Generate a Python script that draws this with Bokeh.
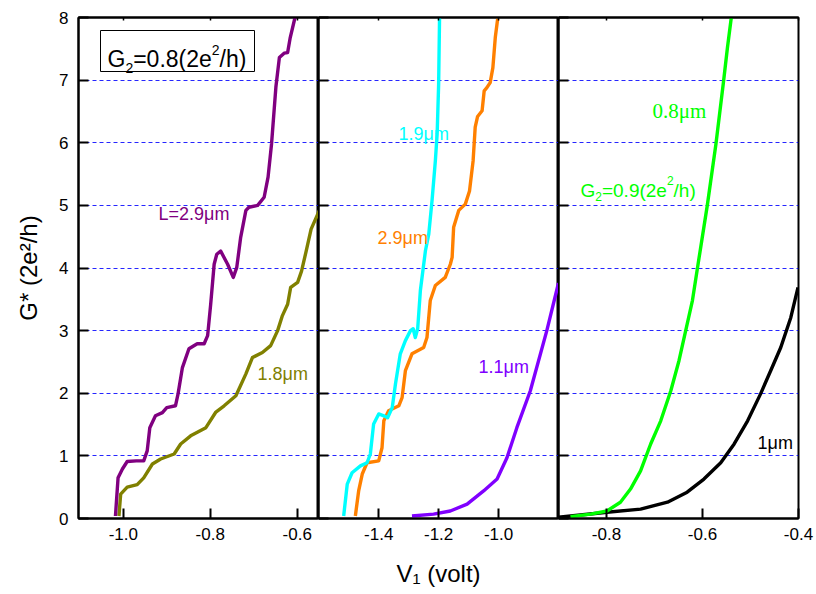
from bokeh.plotting import figure
from bokeh.models import Range1d, FixedTicker, LinearAxis, Label, BoxAnnotation
from bokeh.layouts import row
from bokeh.embed import file_html
from bokeh.resources import INLINE

# ---------------- data ----------------
# panel 1 : G2 = 0.8 (2e^2/h)
v_l29 = [-1.018, -1.012, -1.002, -0.991, -0.970, -0.953, -0.945, -0.939, -0.926, -0.910,
         -0.900, -0.880, -0.874, -0.864, -0.849, -0.830, -0.814, -0.806, -0.799, -0.791,
         -0.785, -0.776, -0.760, -0.747, -0.739, -0.730, -0.718, -0.711, -0.691, -0.676,
         -0.667, -0.659, -0.649, -0.641, -0.630, -0.622, -0.616, -0.605]
g_l29 = [0.04, 0.65, 0.79, 0.91, 0.92, 0.92, 1.08, 1.45, 1.64, 1.69,
         1.77, 1.80, 1.99, 2.41, 2.71, 2.79, 2.79, 2.92, 3.42, 4.06,
         4.22, 4.27, 4.06, 3.85, 4.01, 4.49, 4.92, 4.97, 5.00, 5.13,
         5.45, 5.98, 6.89, 7.36, 7.43, 7.44, 7.68, 8.00]

v_l18 = [-1.010, -1.006, -0.991, -0.968, -0.953, -0.933, -0.914, -0.883, -0.868, -0.845,
         -0.810, -0.787, -0.768, -0.741, -0.718, -0.703, -0.680, -0.661, -0.645, -0.634,
         -0.622, -0.615, -0.599, -0.590, -0.580, -0.568, -0.549]
g_l18 = [0.04, 0.39, 0.50, 0.54, 0.65, 0.87, 0.95, 1.03, 1.19, 1.32,
         1.45, 1.70, 1.80, 1.96, 2.31, 2.57, 2.65, 2.76, 3.00, 3.24,
         3.42, 3.69, 3.77, 3.95, 4.25, 4.62, 4.92]

# panel 2
v_l19 = [-1.517, -1.505, -1.489, -1.461, -1.439, -1.428, -1.417, -1.400, -1.383, -1.370,
         -1.355, -1.344, -1.328, -1.311, -1.294, -1.285, -1.278, -1.270, -1.261, -1.244,
         -1.233, -1.222, -1.211, -1.205, -1.200, -1.197]
g_l19 = [0.04, 0.55, 0.73, 0.84, 0.89, 1.03, 1.51, 1.67, 1.64, 1.61,
         1.77, 2.15, 2.63, 2.84, 3.00, 3.03, 2.89, 3.03, 3.64, 4.28,
         4.54, 5.08, 5.71, 6.14, 6.94, 8.00]

v_l29b = [-1.478, -1.467, -1.455, -1.439, -1.400, -1.389, -1.383, -1.367, -1.333, -1.322,
          -1.311, -1.289, -1.250, -1.239, -1.228, -1.211, -1.178, -1.161, -1.155, -1.150,
          -1.133, -1.111, -1.097, -1.085, -1.078, -1.070, -1.055, -1.048, -1.039, -1.028,
          -1.019, -1.011, -1.003]
g_l29b = [0.04, 0.44, 0.71, 0.89, 0.92, 1.13, 1.56, 1.72, 1.80, 1.93,
          2.36, 2.63, 2.73, 2.89, 3.48, 3.72, 3.85, 4.06, 4.17, 4.65,
          4.92, 5.02, 5.23, 5.71, 6.25, 6.42, 6.51, 6.83, 6.88, 6.96,
          7.20, 7.68, 7.98]

v_l11 = [-1.289, -1.217, -1.161, -1.105, -1.050, -1.005, -0.972, -0.939, -0.894, -0.839, -0.800]
g_l11 = [0.04, 0.07, 0.12, 0.23, 0.44, 0.63, 0.97, 1.45, 2.04, 3.00, 3.76]

# panel 3 : G2 = 0.9 (2e^2/h)
v_l08 = [-0.875, -0.833, -0.799, -0.771, -0.750, -0.729, -0.708, -0.687, -0.666, -0.649,
         -0.635, -0.621, -0.607, -0.590, -0.572, -0.556, -0.548, -0.540]
g_l08 = [0.03, 0.07, 0.12, 0.26, 0.47, 0.76, 1.19, 1.56, 2.04, 2.52,
         3.00, 3.48, 4.17, 5.00, 5.98, 6.99, 7.52, 8.00]

v_l10 = [-0.900, -0.799, -0.729, -0.673, -0.632, -0.597, -0.562, -0.534, -0.506, -0.479,
         -0.458, -0.437, -0.416, -0.401]
g_l10 = [0.02, 0.10, 0.15, 0.26, 0.42, 0.63, 0.89, 1.19, 1.56, 1.99,
         2.36, 2.73, 3.21, 3.69]

y_ticks = [0, 1, 2, 3, 4, 5, 6, 7, 8]
grid_ticks = [1, 2, 3, 4, 5, 6, 7]
x_ticks_1 = [-1.0, -0.8, -0.6]
x_ticks_2 = [-1.4, -1.2, -1.0]
x_ticks_3 = [-0.8, -0.6, -0.4]
x_range_1 = (-1.103, -0.551)
x_range_2 = (-1.601, -0.800)
x_range_3 = (-0.900, -0.400)

FONT = "Liberation Sans"
H = 594
TOP = 17
FRAME_W = 240
FRAME_H = 501
BOTTOM = H - TOP - FRAME_H
PAGE_TOP = TOP  # page y of frame top

W = {'G': 0.778, '2': 0.556, '=': 0.584, '0': 0.556, '.': 0.278, '8': 0.556, '9': 0.556,
     '(': 0.333, ')': 0.333, 'e': 0.556, '/': 0.278, 'h': 0.556, 'V': 0.667, '1': 0.556,
     ' ': 0.278, 'v': 0.5, 'o': 0.556, 'l': 0.222, 't': 0.278}


def ydat(py):
    return 8 - (py - PAGE_TOP) * 8.0 / FRAME_H


def make_xdat(xr, page_left):
    def f(px):
        return xr[0] + (px - page_left) * (xr[1] - xr[0]) / FRAME_W
    return f


def hide_labels(ax):
    ax.major_label_text_font_size = "0px"
    ax.major_label_text_color = None
    ax.major_label_standoff = 0


def panel(xr, xticks, width, bl, br, ylabels, xtitle=None):
    p = figure(width=width, height=H, x_range=Range1d(*xr), y_range=Range1d(0, 8),
               output_backend="svg", toolbar_location=None,
               min_border_left=bl, min_border_right=br, min_border_top=TOP,
               min_border_bottom=BOTTOM)
    p.background_fill_color = "white"
    p.border_fill_color = "white"
    p.outline_line_color = "black"
    p.outline_line_width = 2
    p.xgrid.visible = False
    p.ygrid.ticker = FixedTicker(ticks=grid_ticks)
    p.ygrid.grid_line_color = "#0000ff"
    p.ygrid.grid_line_alpha = 0.85
    p.ygrid.grid_line_dash = "4 3"
    p.ygrid.grid_line_width = 1
    xa = p.below[0]
    ya = p.left[0]
    for ax in (xa, ya):
        ax.axis_line_width = 2
        ax.axis_line_color = "black"
        ax.major_tick_in = 10
        ax.major_tick_out = 0
        ax.major_tick_line_width = 2
        ax.minor_tick_line_color = None
        ax.major_label_text_font = FONT
        ax.major_label_text_font_size = "17px"
        ax.major_label_text_color = "black"
    xa.ticker = FixedTicker(ticks=xticks)
    xa.major_label_overrides = {t: f"{t:.1f}" for t in xticks}
    xa.major_label_standoff = 9
    if xtitle:
        xa.axis_label = xtitle
        xa.axis_label_text_font = FONT
        xa.axis_label_text_font_size = "24px"
        xa.axis_label_text_font_style = "normal"
        xa.axis_label_text_color = "black"
        xa.axis_label_standoff = 17
    ya.ticker = FixedTicker(ticks=y_ticks)
    if ylabels:
        ya.major_label_standoff = 10
        ya.axis_label = "G* (2e²/h)"
        ya.axis_label_text_font = FONT
        ya.axis_label_text_font_size = "24px"
        ya.axis_label_text_font_style = "normal"
        ya.axis_label_text_color = "black"
        ya.axis_label_standoff = 14
    else:
        hide_labels(ya)
    top = LinearAxis(ticker=FixedTicker(ticks=xticks), major_tick_in=3, major_tick_out=0,
                     major_tick_line_width=1.5, minor_tick_line_color=None,
                     axis_line_width=2)
    hide_labels(top)
    p.add_layout(top, "above")
    return p


def rich(p, x, ybase_px, pieces, color):
    off = 0.0
    for text, size, dy in pieces:
        p.add_layout(Label(x=x, y=ydat(ybase_px + dy), x_offset=off, text=text,
                           text_font=FONT, text_font_size=f"{size}px", text_color=color,
                           text_baseline="alphabetic", text_align="left"))
        off += sum(W.get(c, 0.55) for c in text) * size


def label(p, x, y_px, text, color, size=18, font=FONT):
    p.add_layout(Label(x=x, y=ydat(y_px), text=text, text_font=font,
                       text_font_size=f"{size}px", text_color=color,
                       text_baseline="middle", text_align="left"))


LW = 3.4

# ---------------- panel 1 ----------------
p1 = panel(x_range_1, x_ticks_1, 78 + FRAME_W, 78, 0, True)
x1 = make_xdat(x_range_1, 78)
p1.line(v_l18, g_l18, line_color="#808000", line_width=LW, line_join="round")
p1.line(v_l29, g_l29, line_color="#800080", line_width=LW, line_join="round")
p1.add_layout(BoxAnnotation(left=x1(100), right=x1(254), top=ydat(30), bottom=ydat(71),
                            fill_color="white", fill_alpha=1.0, line_color="black",
                            line_width=1, line_alpha=1.0))
rich(p1, x1(107), 58.5, [("G", 23, 0), ("2", 14, 8.5), ("=0.8(2e", 23, 0), ("2", 14, -9.5),
                         ("/h)", 23, 0)], "black")
label(p1, x1(158), 213, "L=2.9μm", "#800080")
label(p1, x1(257), 373, "1.8μm", "#808000")

# ---------------- panel 2 ----------------
p2 = panel(x_range_2, x_ticks_2, FRAME_W, 0, 0, False, xtitle="V₁ (volt)")
x2 = make_xdat(x_range_2, 318)
p2.line(v_l11, g_l11, line_color="#8000ff", line_width=LW, line_join="round")
p2.line(v_l29b, g_l29b, line_color="#ff8000", line_width=LW, line_join="round")
p2.line(v_l19, g_l19, line_color="#00ffff", line_width=LW, line_join="round")
label(p2, x2(398), 133, "1.9μm", "#00ffff")
label(p2, x2(377), 237, "2.9μm", "#ff8000")
label(p2, x2(478), 366, "1.1μm", "#8000ff")

# ---------------- panel 3 ----------------
p3 = panel(x_range_3, x_ticks_3, FRAME_W + 18, 0, 18, False)
x3 = make_xdat(x_range_3, 558)
p3.line(v_l10, g_l10, line_color="black", line_width=LW, line_join="round")
p3.line(v_l08, g_l08, line_color="#00ff00", line_width=LW, line_join="round")
label(p3, x3(652), 110, "0.8μm", "#00ff00", size=21, font="Liberation Serif")
rich(p3, x3(580), 190, [("G", 19, 0), ("2", 12, 6), ("=0.9(2e", 19, 0), ("2", 12, -10),
                        ("/h)", 19, 0)], "#00ff00")
label(p3, x3(757), 442, "1μm", "black")

layout = row(p1, p2, p3, spacing=0)
open("out.html", "w").write(file_html(layout, INLINE))
